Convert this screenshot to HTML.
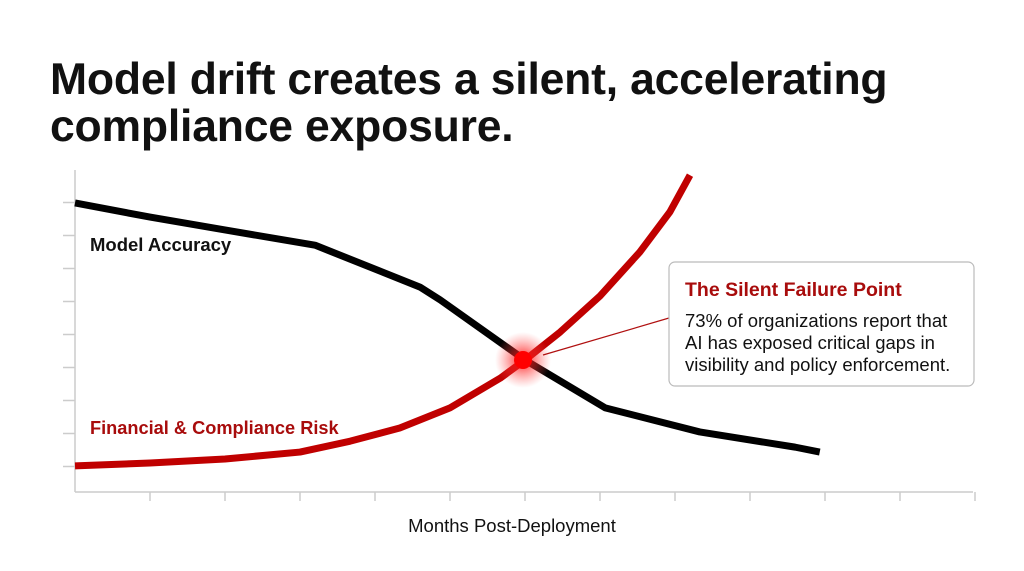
<!DOCTYPE html>
<html><head><meta charset="utf-8"><style>
body{margin:0;width:1024px;height:571px;background:#fff;overflow:hidden;font-family:"Liberation Sans",sans-serif}
h1{position:absolute;left:50px;top:56px;margin:0;font-size:44.5px;line-height:47px;font-weight:bold;color:#111;letter-spacing:-0.2px}
svg{position:absolute;left:0;top:0}
</style></head><body>
<svg id="c" width="1024" height="571"></svg>
<h1>Model drift creates a silent, accelerating<br>compliance exposure.</h1>
<script>
const accMonths=[0,1,2,3.2,4.6,4.87,6,7.07,8.33,9.6,9.93];
const accValues=[87.6,83.3,79.4,74.8,62.1,58.2,40,25.5,18.2,13.6,12.1];
const riskMonths=[0,1,2,3,3.67,4.33,5,5.67,6,6.47,7,7.53,7.93,8.2];
const riskValues=[7.9,8.8,10,12.1,15.4,19.4,25.5,34.5,40,48.5,59.4,72.7,84.8,96];
const yTicks=[0,10,20,30,40,50,60,70,80];
const xTicks=[0,1,2,3,4,5,6,7,8,9,10,11,12];
const NS='http://www.w3.org/2000/svg';
const svg=document.getElementById('c');
const X=m=>75+75*m, Y=v=>492-v*3.3;
function mk(t,a){const e=document.createElementNS(NS,t);for(const k in a)e.setAttribute(k,a[k]);svg.appendChild(e);return e;}
const defs=mk('defs',{});
defs.innerHTML='<radialGradient id="g"><stop offset="0" stop-color="#ff0000" stop-opacity="0.9"/><stop offset="0.5" stop-color="#ff3030" stop-opacity="0.45"/><stop offset="1" stop-color="#ff6060" stop-opacity="0"/></radialGradient>';
let ax=mk('line',{x1:75,y1:170,x2:75,y2:492,stroke:'#ccc','stroke-width':1.5});

let bx=mk('line',{x1:75,y1:492,x2:973,y2:492,stroke:'#ccc','stroke-width':1.5});

yTicks.forEach(v=>{const t=mk('line',{x1:63,x2:75,y1:Y(v)-25.5,y2:Y(v)-25.5,stroke:'#ccc','stroke-width':1.5});
});
xTicks.slice(1).forEach(m=>{const t=mk('line',{x1:X(m),x2:X(m),y1:492,y2:501,stroke:'#ccc','stroke-width':1.5});
});
function path(ms,vs){let d='M'+X(ms[0])+','+Y(vs[0]);for(let i=1;i<ms.length;i++)d+='L'+X(ms[i])+','+Y(vs[i]);return d;}
const acc=mk('path',{d:path(accMonths,accValues),fill:'none',stroke:'#000','stroke-width':7,'stroke-linejoin':'round'});

const risk=mk('path',{d:path(riskMonths,riskValues),fill:'none',stroke:'#c00000','stroke-width':7,'stroke-linejoin':'round'});

const glow=mk('circle',{cx:X(6)-2,cy:Y(40),r:28,fill:'url(#g)'});

mk('circle',{cx:X(6)-2,cy:Y(40),r:9,fill:'#ff0000'});
const conn=mk('line',{x1:543,y1:355,x2:669,y2:318,stroke:'#b01010','stroke-width':1.2});

const box=mk('rect',{x:669,y:262,width:305,height:124,rx:6,fill:'#fff',stroke:'#bbb','stroke-width':1.2});

function txt(x,y,s,size,col,w,name,anchor){const t=mk('text',{x:x,y:y,'font-size':size,fill:col,'font-weight':w||'normal','text-anchor':anchor||'start','font-family':'Liberation Sans, sans-serif'});t.textContent=s;
return t;}
txt(685,296,'The Silent Failure Point',19.5,'#a80c0c','bold','callout-title');
txt(685,327,'73% of organizations report that',18.5,'#111','normal','callout-text-1');
txt(685,349,'AI has exposed critical gaps in',18.5,'#111','normal','callout-text-2');
txt(685,371,'visibility and policy enforcement.',18.5,'#111','normal','callout-text-3');
txt(90,251,'Model Accuracy',18.5,'#111','bold','accuracy-label');
txt(90,434,'Financial & Compliance Risk',18.2,'#a80c0c','bold','risk-label');
txt(512,532,'Months Post-Deployment',18.5,'#111','normal','x-axis-title','middle');
</script>
</body></html>
